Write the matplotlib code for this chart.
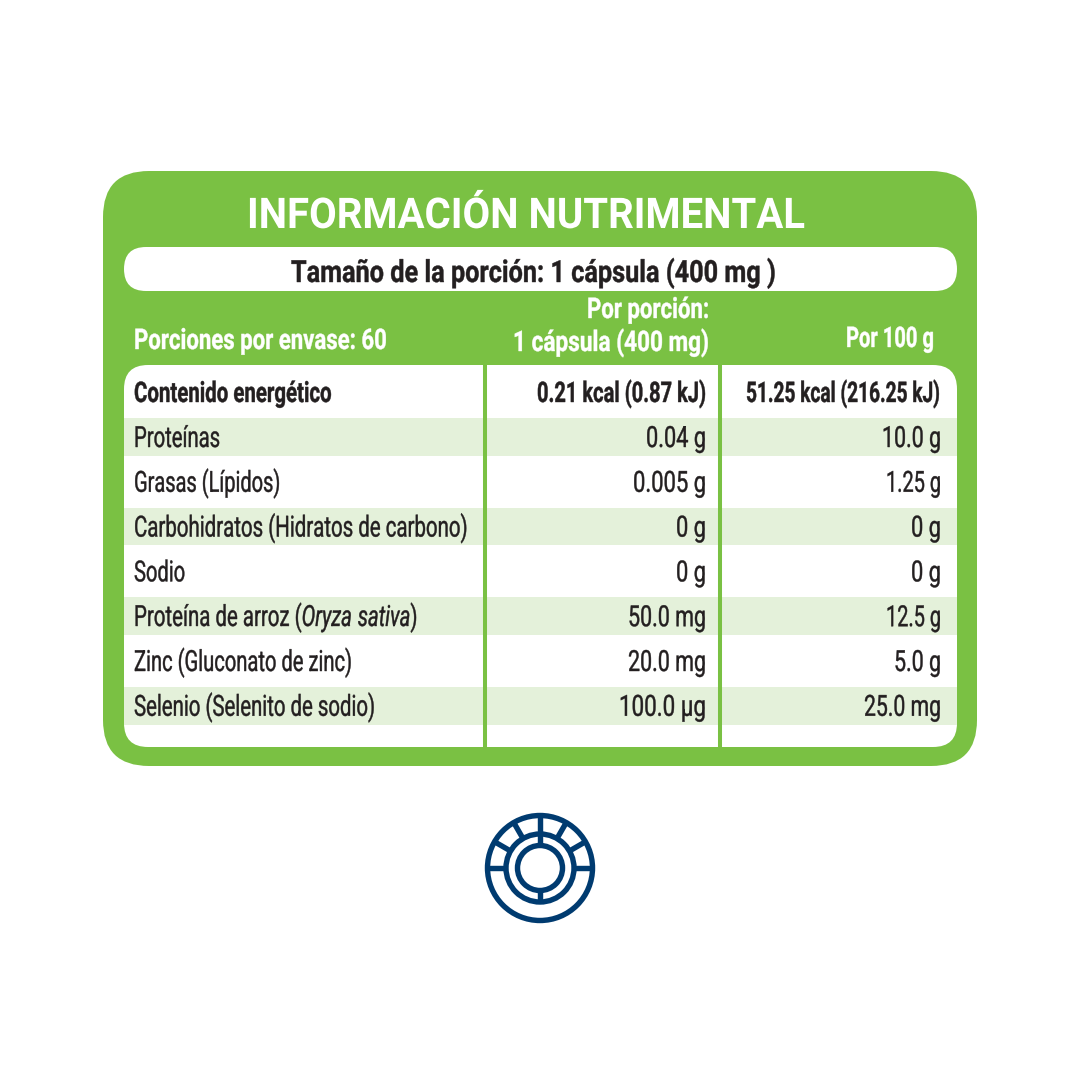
import matplotlib
matplotlib.use("Agg")
import matplotlib.pyplot as plt
from matplotlib.patches import FancyBboxPatch, Rectangle, Circle
from matplotlib.patheffects import AbstractPathEffect
from matplotlib.text import Text
from matplotlib.transforms import Affine2D, Bbox
import numpy as np

plt.rcParams["mathtext.fontset"] = "custom"
plt.rcParams["mathtext.it"] = "Roboto:italic"
plt.rcParams["mathtext.rm"] = "Roboto"
plt.rcParams["mathtext.default"] = "regular"

title = "INFORMACIÓN NUTRIMENTAL"
serving = "Tamaño de la porción: 1 cápsula (400 mg )"
per_pack = "Porciones por envase: 60"
col_header_1 = ["Por porción:", "1 cápsula (400 mg)"]
col_header_2 = "Por 100 g"
energy = ["Contenido energético", "0.21 kcal (0.87 kJ)", "51.25 kcal (216.25 kJ)"]
nutrients = ["Proteínas", "Grasas (Lípidos)", "Carbohidratos (Hidratos de carbono)", "Sodio",
             r"Proteína de arroz ($\mathit{Oryza\ sativa}$)", "Zinc (Gluconato de zinc)",
             "Selenio (Selenito de sodio)"]
per_portion = ["0.04 g", "0.005 g", "0 g", "0 g", "50.0 mg", "20.0 mg", "100.0 µg"]
per_100g = ["10.0 g", "1.25 g", "0 g", "0 g", "12.5 g", "5.0 g", "25.0 mg"]
shaded = [True, False, True, False, True, False, True]

# ink widths in the reference, used only to condense the type
w_names = [86, 146, 333, 51, 283, 218, 241]
w_col1 = [60, 73, 30, 30, 78, 78, 87]
w_col2 = [59, 55, 30, 30, 55, 47, 77]

GREEN = "#7AC143"
LIGHT = "#E4F1DA"
INK = "#231F20"
NAVY = "#003B70"
FONT = ["Roboto"]

fig = plt.figure(figsize=(10.8, 10.8), dpi=100, facecolor="white")
ax = fig.add_axes([0, 0, 1, 1])
ax.set_xlim(0, 1080)
ax.set_ylim(1080, 0)
ax.axis("off")
renderer = fig.canvas.get_renderer()


class Squeeze(AbstractPathEffect):
    """Condense glyph outlines horizontally about a fixed pixel column, with a slight embolden."""

    def __init__(self, sx, anchor, stroke):
        super().__init__()
        self.sx, self.anchor, self.stroke = sx, anchor, stroke

    def draw_path(self, renderer, gc, tpath, affine, rgbFace=None):
        aff = affine + Affine2D().translate(-self.anchor, 0).scale(self.sx, 1).translate(self.anchor, 0)
        gc0 = renderer.new_gc()
        gc0.copy_properties(gc)
        if self.stroke:
            gc0.set_linewidth(self.stroke)
            gc0.set_foreground(rgbFace)
        renderer.draw_path(gc0, tpath, aff, rgbFace)
        gc0.restore()


class NarrowText(Text):
    sx = 1.0
    anchor = 0.0

    def get_window_extent(self, renderer=None, dpi=None):
        bb = super().get_window_extent(renderer, dpi)
        a, s = self.anchor, self.sx
        return Bbox.from_extents(a + (bb.x0 - a) * s, bb.y0, a + (bb.x1 - a) * s, bb.y1)


def label(x, y, s, width, ha="left", fs=20.5, weight="normal", color=INK, stroke=0.3):
    t = NarrowText(x, y, s, color=color, ha=ha, va="baseline", family=FONT, fontsize=fs,
                   weight=weight, zorder=5)
    ax.add_artist(t)
    natural = Text.get_window_extent(t, renderer).width
    t.sx = width / natural
    t.anchor = ax.transData.transform((x, y))[0]
    t.set_path_effects([Squeeze(t.sx, t.anchor, stroke)])
    return t


def rbox(x0, y0, x1, y1, r, color, z):
    ax.add_patch(FancyBboxPatch((x0 + r, y0 + r), x1 - x0 - 2 * r, y1 - y0 - 2 * r,
                                boxstyle=f"round,pad={r},rounding_size={r}",
                                fc=color, ec="none", zorder=z))


rbox(103, 171, 977, 766, 46, GREEN, 1)
rbox(124, 247, 957, 291, 22, "white", 2)
rbox(124, 365, 957, 747, 24, "white", 2)

PITCH = 44.8
for i, s in enumerate(shaded):
    if s:
        c = 437 + PITCH * i
        ax.add_patch(Rectangle((124, c - 18.8), 833, 37.6, fc=LIGHT, ec="none", zorder=3))
for x in (484.5, 719.5):
    ax.plot([x, x], [365, 747], color=GREEN, lw=2.9, zorder=4, solid_capstyle="butt")

label(247, 228, title, 559, fs=30.5, weight="bold", color="white", stroke=0)
label(291, 282, serving, 484, fs=22, weight="bold")
label(134, 349, per_pack, 253, weight="bold", color="white")
label(709, 318, col_header_1[0], 122, ha="right", weight="bold", color="white")
label(709, 351, col_header_1[1], 196, ha="right", weight="bold", color="white")
label(934, 347, col_header_2, 88, ha="right", weight="bold", color="white")

label(134, 402, energy[0], 198, weight="bold")
label(706, 402, energy[1], 169, ha="right", weight="bold")
label(746, 402, energy[2], 194, weight="bold")

for i, (n, a, b) in enumerate(zip(nutrients, per_portion, per_100g)):
    y = 437 + PITCH * i + 10
    label(134, y, n, w_names[i], fs=21)
    label(706, y, a, w_col1[i], ha="right", fs=21)
    label(941, y, b, w_col2[i], ha="right", fs=21)

# icon
cx, cy = 540, 868
LW = 3.9
for r in (52.5, 34, 22.5):
    ax.add_patch(Circle((cx, cy), r, fc="none", ec=NAVY, lw=LW, zorder=5))
for deg in (0, 30, 60, 120, 150, 180):
    t = np.deg2rad(deg)
    ax.plot([cx + 34 * np.cos(t), cx + 52.5 * np.cos(t)], [cy - 34 * np.sin(t), cy - 52.5 * np.sin(t)],
            color=NAVY, lw=LW, solid_capstyle="butt", zorder=5)
ax.plot([cx, cx], [cy - 52.5, cy - 22.5], color=NAVY, lw=LW, solid_capstyle="butt", zorder=5)
ax.plot([cx, cx], [cy + 22.5, cy + 34], color=NAVY, lw=LW, solid_capstyle="butt", zorder=5)

fig.savefig("out.png", dpi=100, facecolor="white")
